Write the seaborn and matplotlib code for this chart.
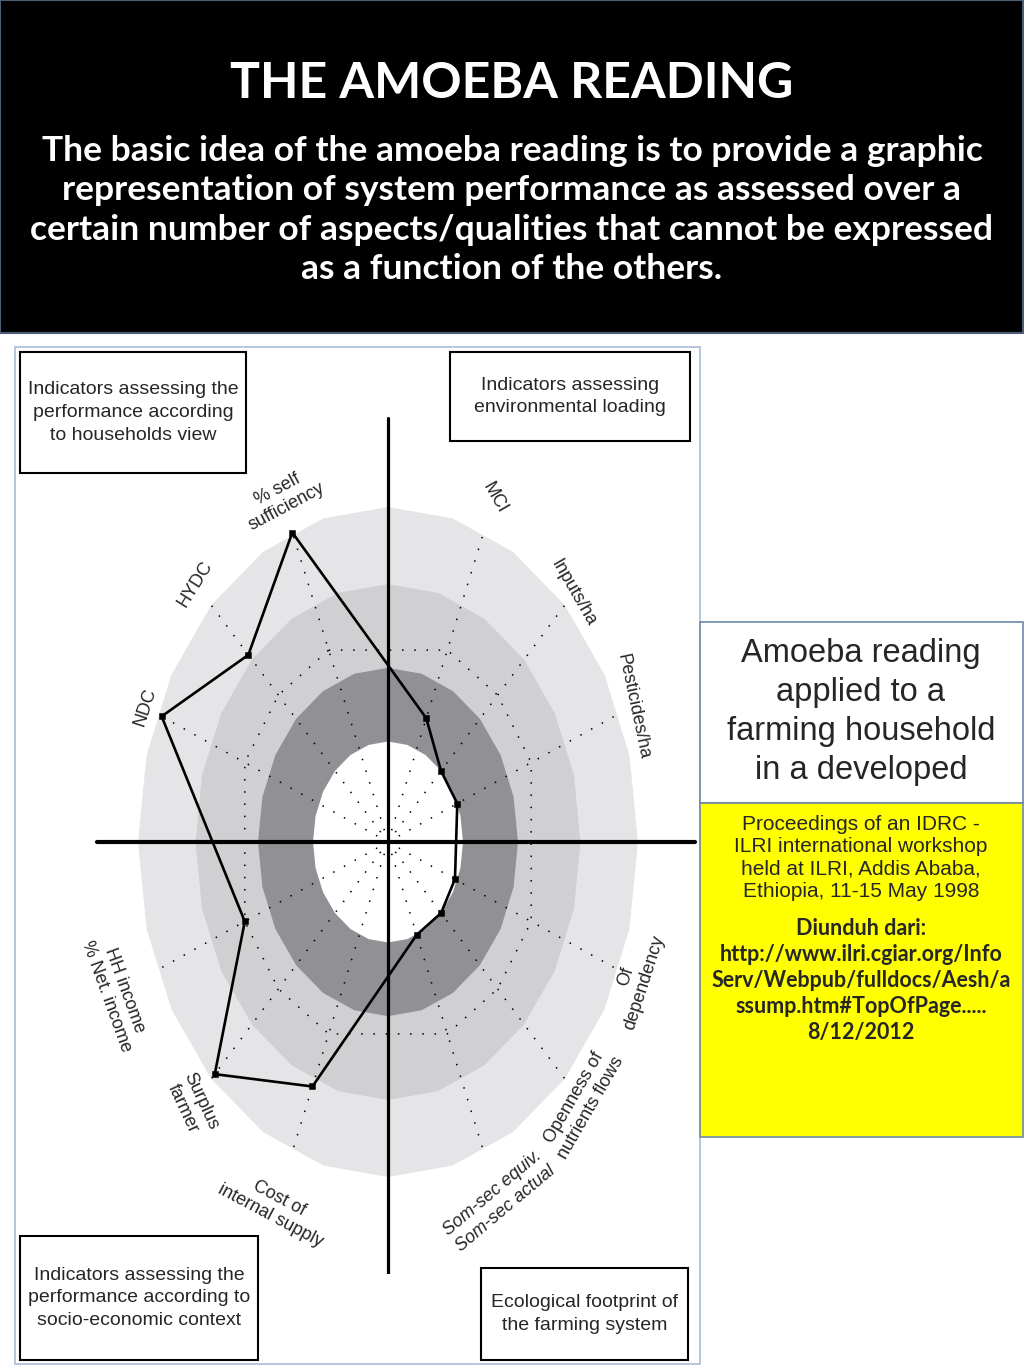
import numpy as np
import pandas as pd
import seaborn as sns
import matplotlib.pyplot as plt
from matplotlib.patches import Rectangle

# Dados do amoeba (12 indicadores, valores em % do nivel de referencia)
indicators = ['% self\nsufficiency', 'MCI', 'Inputs/ha', 'Pesticides/ha',
              'Of\ndependency', 'Openness of\nnutrients flows',
              'Som-sec equiv.\nSom-sec actual', 'Cost of\ninternal supply',
              'Surplus\nfarmer', 'HH income\n% Net. income', 'NDC', 'HYDC']
angles_deg = [112.5, 67.5, 45, 22.5, -22.5, -45, -67.5, -112.5, -135, -157.5, 157.5, 135]
scores = [100, 40, 30, 30, 29, 30, 30, 79, 98, 62, 98, 79]

ring_levels = [100, 77, 52, 30]
ring_colors = ['#e5e5e8', '#d0d0d3', '#919195', '#ffffff']
dotted_level = 62

title = 'THE AMOEBA READING'
body = ('The basic idea of the amoeba reading is to provide a graphic\n'
        'representation of system performance as assessed over a\n'
        'certain number of aspects/qualities that cannot be expressed\n'
        'as a function of the others.')
box_texts = ['Indicators assessing the\nperformance according\nto households view',
             'Indicators assessing\nenvironmental loading',
             'Indicators assessing the\nperformance according to\nsocio-economic context',
             'Ecological footprint of\nthe farming system']
side_title = 'Amoeba reading\napplied to a\nfarming household\nin a developed'
source_plain = ('Proceedings of an IDRC -\nILRI international workshop\n'
                'held at ILRI, Addis Ababa,\nEthiopia, 11-15 May 1998')
source_bold = ('Diunduh dari:\nhttp://www.ilri.cgiar.org/Info\n'
               'Serv/Webpub/fulldocs/Aesh/a\nssump.htm#TopOfPage.....\n8/12/2012')

sns.set_theme(style='white')
plt.rcParams['font.family'] = ['Liberation Sans', 'DejaVu Sans']
narrow = ['Liberation Sans Narrow', 'Liberation Sans', 'DejaVu Sans']

fig = plt.figure(figsize=(10.24, 13.65), dpi=100)
fig.patch.set_facecolor('white')

# eixo de layout em pixels
ax0 = fig.add_axes([0, 0, 1, 1])
ax0.set_xlim(0, 1024)
ax0.set_ylim(1365, 0)
ax0.axis('off')
ax0.set_zorder(3)

ax0.add_patch(Rectangle((0, 0), 1023, 333, facecolor='black', edgecolor='#4d5d75', lw=1.5))
ax0.text(512, 84, title, color='white', fontsize=36, fontweight='bold',
         family=['Lato', 'DejaVu Sans'], ha='center', va='center')
ax0.text(512, 210, body, color='white', fontsize=25.5, fontweight='bold',
         family=['Lato', 'DejaVu Sans'], ha='center', va='center', linespacing=1.27)

# moldura da figura do amoeba
ax0.add_patch(Rectangle((15, 347), 685, 1017, facecolor='none', edgecolor='#a9bcd6', lw=1.2))

# caixas de texto a direita
ax0.add_patch(Rectangle((700, 622), 323, 181, facecolor='white', edgecolor='#6d87aa', lw=1.2))
ax0.text(861, 712, side_title, fontsize=23.5, ha='center', va='center', linespacing=1.33)
ax0.add_patch(Rectangle((700, 803), 323, 334, facecolor='#ffff00', edgecolor='#6d87aa', lw=1.2))
ax0.text(861, 815, source_plain, fontsize=15, ha='center', va='top', linespacing=1.22)
ax0.text(861, 918, source_bold, fontsize=15.5, fontweight='bold',
         family=['Lato', 'DejaVu Sans'], ha='center', va='top', linespacing=1.3)

# caixas dos quadrantes
boxes = [(20, 352, 226, 121), (450, 352, 240, 89), (20, 1236, 238, 124), (481, 1268, 207, 92)]
for (bx, by, bw, bh), txt in zip(boxes, box_texts):
    ax0.add_patch(Rectangle((bx, by), bw, bh, facecolor='white', edgecolor='black', lw=1.5))
    ax0.text(bx + bw / 2, by + bh / 2, txt, fontsize=14, family=narrow,
             ha='center', va='center', linespacing=1.45)

# eixo do amoeba (unidades: % do nivel de referencia, elipse vertical)
axc = fig.add_axes([78 / 1024, (1365 - 1274) / 1365, 620 / 1024, 864 / 1365])
axc.set_xlim(-124, 124)
axc.set_ylim(-128.96, 128.96)
axc.axis('off')

theta = np.linspace(0, 2 * np.pi, 25)
for lev, col in zip(ring_levels, ring_colors):
    axc.fill(lev * np.cos(theta), lev * np.sin(theta), color=col, lw=0, zorder=1)

ang = np.deg2rad(angles_deg)
for a in ang:
    axc.plot([0, 100 * np.cos(a)], [0, 100 * np.sin(a)], color='black', lw=1.1,
             linestyle=(0, (1, 7)), zorder=2)
theta_d = np.append(ang, ang[0])
axc.plot(dotted_level * np.cos(theta_d), dotted_level * np.sin(theta_d), color='black',
         lw=1.1, linestyle=(0, (1, 7)), zorder=2)

# eixos cartesianos
axc.plot([0, 0], [-129.3, 126.6], color='black', lw=2.3, zorder=4)
axc.plot([-116.4, 122.8], [0, 0], color='black', lw=3, zorder=4)

sc = np.array(scores, dtype=float)
df = pd.DataFrame({'indicador': indicators + [indicators[0]],
                   'x': np.append(sc * np.cos(ang), sc[0] * np.cos(ang[0])),
                   'y': np.append(sc * np.sin(ang), sc[0] * np.sin(ang[0]))})
sns.lineplot(data=df, x='x', y='y', sort=False, estimator=None, color='black',
             lw=1.9, ax=axc, zorder=5)
sns.scatterplot(data=df.iloc[:-1], x='x', y='y', color='black', marker='s', s=22,
                edgecolor='black', ax=axc, zorder=6)
axc.set_xlim(-124, 124)
axc.set_ylim(-128.96, 128.96)

label_r = [111, 111, 105, 106, 107, 110, 116, 118, 111, 118, 105, 109]
label_rot = [28, -60, -60, -78, 72, 60, 40, -28, -65, -70, 72, 58]
for name, a, r, rot in zip(indicators, ang, label_r, label_rot):
    st = 'italic' if name.startswith('Som') else 'normal'
    axc.text(r * np.cos(a), r * np.sin(a), name, rotation=rot, rotation_mode='anchor',
             ha='center', va='center', fontsize=13, family=narrow, style=st,
             linespacing=1.2, zorder=7)

fig.savefig('out.png', dpi=100)
